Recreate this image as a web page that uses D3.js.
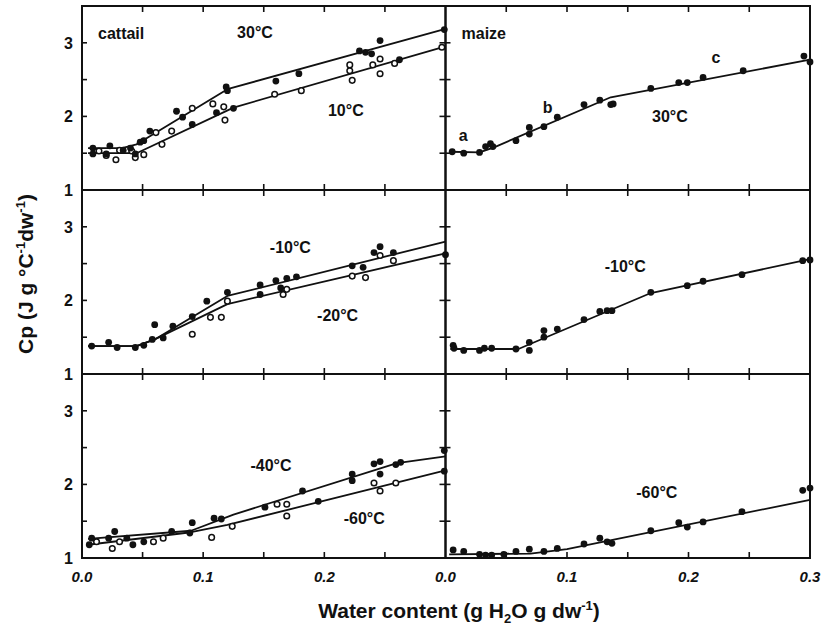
<!DOCTYPE html>
<html>
<head>
<meta charset="utf-8">
<script src="https://cdn.jsdelivr.net/npm/d3@7"></script>
<style>
  html, body { margin: 0; padding: 0; background: #fff; }
  svg { display: block; font-family: "Liberation Sans", Arial, sans-serif; }
</style>
</head>
<body>
<svg id="chart" width="830" height="628"></svg>
<script>
// ---- Measured heat capacity (Cp) vs. water content ----
// cattail, 30 °C (filled) and 10 °C (open)
const cattail30 = [[0.009,1.57],[0.009,1.49],[0.023,1.60],[0.020,1.49],[0.034,1.54],[0.040,1.57],
  [0.044,1.49],[0.048,1.65],[0.051,1.67],[0.056,1.80],[0.078,2.07],[0.083,1.99],[0.119,2.40],
  [0.120,2.35],[0.160,2.48],[0.179,2.58],[0.229,2.89],[0.234,2.87],[0.239,2.85],[0.246,3.03],[0.299,3.18]];
const cattail10Filled = [[0.091,1.89],[0.111,2.05],[0.125,2.11],[0.262,2.77]];
const cattail10 = [[0.014,1.53],[0.020,1.47],[0.028,1.41],[0.031,1.54],[0.041,1.53],[0.044,1.44],
  [0.051,1.48],[0.061,1.78],[0.066,1.62],[0.074,1.80],[0.091,2.11],[0.108,2.17],[0.117,2.13],
  [0.118,1.95],[0.159,2.30],[0.181,2.35],[0.221,2.70],[0.221,2.62],[0.223,2.49],[0.240,2.70],
  [0.246,2.78],[0.246,2.58],[0.258,2.72],[0.297,2.94]];
const cattail30Fit = [[0.005,1.57],[0.033,1.57],[0.045,1.62],[0.055,1.72],[0.12,2.37],[0.3,3.19]];
const cattail10Fit = [[0.005,1.50],[0.045,1.50],[0.125,2.12],[0.3,2.95]];

// cattail, -10 °C (filled) and -20 °C (open)
const cattailM10 = [[0.008,1.38],[0.022,1.43],[0.029,1.36],[0.044,1.36],[0.051,1.39],[0.058,1.47],
  [0.060,1.67],[0.067,1.49],[0.075,1.65],[0.091,1.78],[0.103,1.99],[0.120,2.11],[0.147,2.21],
  [0.160,2.27],[0.169,2.30],[0.177,2.32],[0.223,2.47],[0.232,2.45],[0.241,2.65],[0.246,2.73],
  [0.257,2.65],[0.300,2.62]];
const cattailM20Filled = [[0.147,2.08],[0.164,2.17]];
const cattailM20 = [[0.091,1.54],[0.106,1.77],[0.115,1.77],[0.120,1.99],[0.166,2.08],[0.169,2.15],
  [0.223,2.33],[0.234,2.31],[0.246,2.61],[0.257,2.54]];
const cattailM10Fit = [[0.005,1.38],[0.045,1.38],[0.06,1.47],[0.12,2.06],[0.3,2.80]];
const cattailM20Fit = [[0.005,1.38],[0.045,1.38],[0.06,1.47],[0.12,1.95],[0.3,2.64]];

// cattail, -40 °C (filled) and -60 °C (open)
const cattailM40 = [[0.008,1.27],[0.006,1.18],[0.022,1.27],[0.027,1.36],[0.037,1.27],[0.042,1.18],
  [0.051,1.22],[0.074,1.36],[0.089,1.34],[0.091,1.48],[0.109,1.54],[0.115,1.53],[0.182,1.91],
  [0.223,2.14],[0.223,2.05],[0.241,2.28],[0.246,2.31],[0.246,2.14],[0.259,2.27],[0.263,2.30],[0.299,2.46]];
const cattailM60Filled = [[0.151,1.69],[0.195,1.77],[0.299,2.18]];
const cattailM60 = [[0.012,1.22],[0.025,1.13],[0.031,1.22],[0.059,1.22],[0.067,1.27],[0.107,1.28],
  [0.124,1.43],[0.161,1.73],[0.169,1.73],[0.169,1.57],[0.241,2.02],[0.246,1.91],[0.259,2.02]];
const cattailM40Fit = [[0.005,1.26],[0.09,1.37],[0.125,1.59],[0.26,2.29],[0.3,2.38]];
const cattailM60Fit = [[0.005,1.18],[0.09,1.35],[0.12,1.45],[0.3,2.19]];

// maize, 30 °C
const maize30 = [[0.0055,1.52],[0.015,1.50],[0.028,1.51],[0.033,1.59],[0.037,1.63],[0.039,1.59],
  [0.058,1.67],[0.069,1.85],[0.069,1.76],[0.081,1.86],[0.092,1.99],[0.114,2.16],[0.127,2.22],
  [0.136,2.16],[0.138,2.17],[0.169,2.38],[0.192,2.46],[0.199,2.46],[0.212,2.53],[0.245,2.62],
  [0.295,2.82],[0.300,2.74]];
const maize30Fit = [[0.003,1.52],[0.028,1.51],[0.04,1.58],[0.136,2.26],[0.3,2.77]];

// maize, -10 °C
const maizeM10 = [[0.0063,1.39],[0.007,1.35],[0.015,1.32],[0.028,1.32],[0.032,1.35],[0.038,1.35],
  [0.058,1.34],[0.069,1.43],[0.069,1.32],[0.081,1.59],[0.081,1.50],[0.092,1.61],[0.114,1.74],
  [0.127,1.85],[0.133,1.86],[0.137,1.86],[0.169,2.11],[0.199,2.20],[0.212,2.26],[0.244,2.35],
  [0.294,2.54],[0.300,2.55]];
const maizeM10Fit = [[0.004,1.34],[0.06,1.34],[0.169,2.10],[0.3,2.56]];

// maize, -60 °C
const maizeM60 = [[0.0063,1.11],[0.015,1.09],[0.028,1.05],[0.033,1.04],[0.038,1.04],[0.048,1.05],
  [0.058,1.09],[0.069,1.12],[0.081,1.09],[0.092,1.13],[0.114,1.19],[0.127,1.27],[0.133,1.22],
  [0.137,1.20],[0.169,1.37],[0.192,1.48],[0.199,1.42],[0.212,1.49],[0.244,1.63],[0.294,1.92],[0.300,1.95]];
const maizeM60Fit = [[0.003,1.05],[0.07,1.06],[0.1,1.12],[0.3,1.79]];

// axis ticks and labels
const xTicks = [0.05, 0.1, 0.15, 0.2, 0.25];
const xTickLabelsLeft = [0.0, 0.1, 0.2];
const xTickLabelsRight = [0.0, 0.1, 0.2, 0.3];
const yTicks = [1.5, 2, 2.5, 3];
const yTickLabels = [1, 2, 3];
const xDomain = [0, 0.3];
const yDomain = [1, 3.5];

// panel contents
const panels = [
  { row: 0, col: 0, name: "cattail", filled: [cattail30, cattail10Filled], open: [cattail10], fits: [cattail30Fit, cattail10Fit],
    notes: [["30°C", 0.128, 3.06], ["10°C", 0.203, 2.01]] },
  { row: 0, col: 1, name: "maize", filled: [maize30], open: [], fits: [maize30Fit],
    notes: [["30°C", 0.170, 1.92], ["a", 0.011, 1.67], ["b", 0.080, 2.05], ["c", 0.219, 2.73]] },
  { row: 1, col: 0, filled: [cattailM10, cattailM20Filled], open: [cattailM20], fits: [cattailM10Fit, cattailM20Fit],
    notes: [["-10°C", 0.155, 2.64], ["-20°C", 0.194, 1.72]] },
  { row: 1, col: 1, filled: [maizeM10], open: [], fits: [maizeM10Fit],
    notes: [["-10°C", 0.131, 2.39]] },
  { row: 2, col: 0, filled: [cattailM40, cattailM60Filled], open: [cattailM60], fits: [cattailM40Fit, cattailM60Fit],
    notes: [["-40°C", 0.139, 2.18], ["-60°C", 0.216, 1.46]] },
  { row: 2, col: 1, filled: [maizeM60], open: [], fits: [maizeM60Fit],
    notes: [["-60°C", 0.157, 1.82]] }
];

// ---- layout ----
const colX = [82, 445.5];
const colW = [363.5, 364.5];
const rowY = [6, 190, 374];
const rowH = 184;

const svg = d3.select("#chart");

panels.forEach(p => {
  const x0 = colX[p.col], y0 = rowY[p.row];
  const x = d3.scaleLinear().domain(xDomain).range([x0, x0 + colW[p.col]]);
  const y = d3.scaleLinear().domain(yDomain).range([y0 + rowH, y0]);
  const g = svg.append("g");

  // fitted lines
  const line = d3.line().x(d => x(d[0])).y(d => y(d[1]));
  p.fits.forEach(f => {
    g.append("path").attr("d", line(f)).attr("fill", "none")
      .attr("stroke", "#111").attr("stroke-width", 1.8).attr("stroke-linejoin", "round");
  });

  // open symbols
  p.open.forEach(s => {
    g.selectAll(null).data(s).enter().append("circle")
      .attr("cx", d => x(d[0])).attr("cy", d => y(d[1])).attr("r", 2.8)
      .attr("fill", "#fff").attr("stroke", "#111").attr("stroke-width", 1.5);
  });
  // filled symbols
  p.filled.forEach(s => {
    g.selectAll(null).data(s).enter().append("circle")
      .attr("cx", d => x(d[0])).attr("cy", d => y(d[1])).attr("r", 3.4)
      .attr("fill", "#111");
  });

  // inward ticks: top and bottom
  const tk = 6;
  xTicks.forEach(t => {
    g.append("line").attr("x1", x(t)).attr("x2", x(t)).attr("y1", y0).attr("y2", y0 + tk)
      .attr("stroke", "#111").attr("stroke-width", 1.6);
    g.append("line").attr("x1", x(t)).attr("x2", x(t)).attr("y1", y0 + rowH).attr("y2", y0 + rowH - tk)
      .attr("stroke", "#111").attr("stroke-width", 1.6);
  });
  // inward ticks: left axis, plus right axis on the left column
  yTicks.forEach(t => {
    g.append("line").attr("x1", x0).attr("x2", x0 + 5).attr("y1", y(t)).attr("y2", y(t))
      .attr("stroke", "#111").attr("stroke-width", 1.6);
    if (p.col === 0) {
      g.append("line").attr("x1", x0 + colW[0]).attr("x2", x0 + colW[0] - 6).attr("y1", y(t)).attr("y2", y(t))
        .attr("stroke", "#111").attr("stroke-width", 1.6);
    }
  });

  // frame
  g.append("rect").attr("x", x0).attr("y", y0).attr("width", colW[p.col]).attr("height", rowH)
    .attr("fill", "none").attr("stroke", "#111").attr("stroke-width", 2);

  // y tick labels on the left column
  if (p.col === 0) {
    yTickLabels.forEach(t => {
      g.append("text").attr("x", x0 - 9).attr("y", y(t) + 6).attr("text-anchor", "end")
        .attr("font-size", 16).attr("font-weight", "bold").attr("fill", "#111").text(t);
    });
  }
  // x tick labels on the bottom row
  if (p.row === 2) {
    const labs = p.col === 0 ? xTickLabelsLeft : xTickLabelsRight;
    labs.forEach(t => {
      g.append("text").attr("x", x(t)).attr("y", y0 + rowH + 24).attr("text-anchor", "middle")
        .attr("font-size", 15).attr("font-weight", "bold").attr("font-style", "italic")
        .attr("fill", "#111").text(d3.format(".1f")(t));
    });
  }

  // panel name
  if (p.name) {
    g.append("text").attr("x", x0 + 16).attr("y", y0 + 33).attr("font-size", 16)
      .attr("font-weight", "bold").attr("fill", "#111").text(p.name);
  }
  // curve annotations
  p.notes.forEach(n => {
    g.append("text").attr("x", x(n[1])).attr("y", y(n[2])).attr("font-size", 16)
      .attr("font-weight", "bold").attr("fill", "#111").text(n[0]);
  });
});

// axis titles
const xt = svg.append("text").attr("x", 459).attr("y", 618).attr("text-anchor", "middle")
  .attr("font-size", 21).attr("font-weight", "bold").attr("fill", "#111");
xt.append("tspan").text("Water content (g H");
xt.append("tspan").attr("font-size", 13).attr("dy", 5).text("2");
xt.append("tspan").attr("dy", -5).text("O g dw");
xt.append("tspan").attr("font-size", 13).attr("dy", -8).text("-1");
xt.append("tspan").attr("dy", 8).text(")");

const yt = svg.append("text").attr("transform", "translate(33,274) rotate(-90)")
  .attr("text-anchor", "middle").attr("font-size", 21).attr("font-weight", "bold").attr("fill", "#111");
yt.append("tspan").text("Cp (J g °C");
yt.append("tspan").attr("font-size", 13).attr("dy", -8).text("-1");
yt.append("tspan").attr("dy", 8).text("dw");
yt.append("tspan").attr("font-size", 13).attr("dy", -8).text("-1");
yt.append("tspan").attr("dy", 8).text(")");
</script>
</body>
</html>
